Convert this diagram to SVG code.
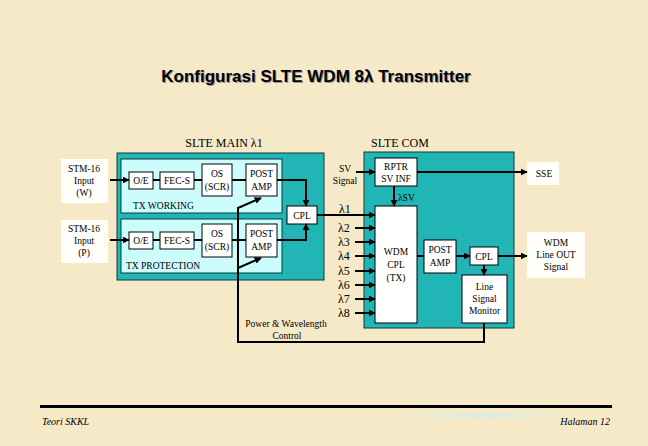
<svg xmlns="http://www.w3.org/2000/svg" width="648" height="446" viewBox="0 0 648 446">
<style>
.bg{fill:#F6E9C8}
.teal{fill:#22B5B5;stroke:#0a3a3a;stroke-width:1}
.lc{fill:#CCFCFC;stroke:#0a3a3a;stroke-width:1}
.wb{fill:#FFFFFF;stroke:#000;stroke-width:1}
.lab{fill:#FFFEF8}
.t{font-family:"Liberation Serif","Times New Roman",serif;font-size:9.5px;fill:#000;text-anchor:middle}
.tl{font-family:"Liberation Serif","Times New Roman",serif;font-size:9.5px;fill:#000}
.hd{font-family:"Liberation Serif","Times New Roman",serif;font-size:12px;fill:#000;text-anchor:middle}
.lam{font-family:"Liberation Serif","Times New Roman",serif;font-size:12px;fill:#000}
.c{fill:none;stroke:#000;stroke-width:2}
.ca{fill:none;stroke:#000;stroke-width:2;marker-end:url(#ah)}
.ft{font-family:"Liberation Serif","Times New Roman",serif;font-size:10px;font-style:italic;fill:#000}
</style>
<defs>
<marker id="ah" viewBox="0 0 10 10" refX="9" refY="5" markerWidth="7" markerHeight="7" markerUnits="userSpaceOnUse" orient="auto"><path d="M0,0 L10,5 L0,10 z" fill="#000"/></marker>
<linearGradient id="strip" x1="0" y1="0" x2="1" y2="0">
<stop offset="0" stop-color="#CFEFEA" stop-opacity="0"/>
<stop offset="0.5" stop-color="#CFEFEA" stop-opacity="0.8"/>
<stop offset="1" stop-color="#CFEFEA" stop-opacity="0"/>
</linearGradient>
</defs>
<rect class="bg" x="0" y="0" width="648" height="446"/>

<g id="title">
<text x="317" y="83" font-family="Liberation Sans, Arial, sans-serif" font-size="17" font-weight="bold" fill="#9a9a9a" text-anchor="middle">Konfigurasi SLTE WDM 8λ Transmitter</text>
<text x="316" y="82" font-family="Liberation Sans, Arial, sans-serif" font-size="17" font-weight="bold" fill="#000" text-anchor="middle">Konfigurasi SLTE WDM 8λ Transmitter</text>
</g>

<g id="slte-main">
<text class="hd" x="224" y="147">SLTE MAIN λ1</text>
<rect class="teal" x="117" y="153" width="207" height="127"/>
</g>
<g id="tx-working">
<rect class="lc" x="121" y="159" width="161" height="54"/>
<text class="tl" x="133" y="209">TX WORKING</text>
</g>
<g id="tx-protection">
<rect class="lc" x="121" y="219" width="161" height="54"/>
<text class="tl" x="126" y="269">TX PROTECTION</text>
</g>

<g id="stm16-w">
<rect class="lab" x="61" y="159" width="47" height="44"/>
<text class="t" x="84" y="172">STM-16</text>
<text class="t" x="84" y="184">Input</text>
<text class="t" x="84" y="196">(W)</text>
</g>
<g id="stm16-p">
<rect class="lab" x="61" y="220" width="47" height="43"/>
<text class="t" x="84" y="232">STM-16</text>
<text class="t" x="84" y="244">Input</text>
<text class="t" x="84" y="256">(P)</text>
</g>

<g id="oe-w"><rect class="wb" x="129" y="172" width="24" height="17"/><text class="t" x="141" y="184">O/E</text></g>
<g id="fec-w"><rect class="wb" x="160" y="172" width="34" height="17"/><text class="t" x="177" y="184">FEC-S</text></g>
<g id="os-w"><rect class="wb" x="202" y="164" width="30" height="32"/><text class="t" x="217" y="177">OS</text><text class="t" x="217" y="190">(SCR)</text></g>
<g id="pa-w"><rect class="wb" x="246" y="164" width="31" height="32"/><text class="t" x="261.5" y="177">POST</text><text class="t" x="261.5" y="190">AMP</text></g>

<g id="oe-p"><rect class="wb" x="129" y="232" width="24" height="17"/><text class="t" x="141" y="244">O/E</text></g>
<g id="fec-p"><rect class="wb" x="160" y="232" width="34" height="17"/><text class="t" x="177" y="244">FEC-S</text></g>
<g id="os-p"><rect class="wb" x="202" y="224" width="30" height="33"/><text class="t" x="217" y="237">OS</text><text class="t" x="217" y="250">(SCR)</text></g>
<g id="pa-p"><rect class="wb" x="246" y="224" width="31" height="33"/><text class="t" x="261.5" y="237">POST</text><text class="t" x="261.5" y="250">AMP</text></g>

<g id="cpl-main"><rect class="wb" x="287" y="206" width="30" height="18"/><text class="t" x="302" y="219">CPL</text></g>

<g id="slte-com">
<text class="hd" x="400" y="147">SLTE COM</text>
<rect class="teal" x="364" y="152" width="150" height="176"/>
</g>
<g id="sv-signal"><text class="t" x="345" y="172">SV</text><text class="t" x="345" y="184">Signal</text></g>
<g id="rptr"><rect class="wb" x="375" y="158" width="42" height="28"/><text class="t" x="396" y="170">RPTR</text><text class="t" x="396" y="182">SV INF</text></g>
<g id="sse"><rect class="lab" x="527" y="162" width="32" height="23"/><text class="t" x="544" y="177">SSE</text></g>
<g id="wdm-cpl"><rect class="wb" x="375" y="206" width="42" height="117"/><text class="t" x="396" y="255">WDM</text><text class="t" x="396" y="268">CPL</text><text class="t" x="396" y="281">(TX)</text></g>
<g id="pa-com"><rect class="wb" x="424" y="240" width="32" height="33"/><text class="t" x="440" y="253">POST</text><text class="t" x="440" y="266">AMP</text></g>
<g id="cpl-com"><rect class="wb" x="470" y="247" width="28" height="18"/><text class="t" x="484" y="260">CPL</text></g>
<g id="lsm"><rect class="wb" x="462" y="275" width="45" height="48"/><text class="t" x="484.5" y="290">Line</text><text class="t" x="484.5" y="302">Signal</text><text class="t" x="484.5" y="314">Monitor</text></g>
<g id="wdm-out"><rect class="lab" x="527" y="232" width="58" height="46"/><text class="t" x="556" y="246">WDM</text><text class="t" x="556" y="258">Line OUT</text><text class="t" x="556" y="270">Signal</text></g>

<g id="lambda-labels">
<text class="lam" x="339" y="213">λ1</text>
<text class="lam" x="338" y="232">λ2</text>
<text class="lam" x="338" y="246">λ3</text>
<text class="lam" x="338" y="260">λ4</text>
<text class="lam" x="338" y="275">λ5</text>
<text class="lam" x="338" y="289">λ6</text>
<text class="lam" x="338" y="303">λ7</text>
<text class="lam" x="338" y="317">λ8</text>
<text class="tl" x="398" y="201">λSV</text>
</g>

<g id="power-control"><text class="t" x="286" y="327">Power &amp; Wavelength</text><text class="t" x="287" y="339">Control</text></g>

<g id="connectors">
<path class="ca" d="M110,180 H129"/>
<path class="ca" d="M110,240 H129"/>
<path class="c" d="M153,180 H160 M194,180 H202 M232,180 H246"/>
<path class="c" d="M153,240 H160 M194,240 H202 M232,240 H246"/>
<path class="ca" d="M277,180 H306 V206"/>
<path class="ca" d="M277,240 H306 V224"/>
<path class="ca" d="M317,215 H375"/>
<path class="ca" d="M356,172 H375"/>
<path class="ca" d="M417,172 H527"/>
<path class="ca" d="M394,186 V206"/>
<path class="ca" d="M355,228 H375"/>
<path class="ca" d="M355,242 H375"/>
<path class="ca" d="M355,256 H375"/>
<path class="ca" d="M355,271 H375"/>
<path class="ca" d="M355,285 H375"/>
<path class="ca" d="M355,299 H375"/>
<path class="ca" d="M355,313 H375"/>
<path class="c" d="M417,256 H424"/>
<path class="ca" d="M456,256 H470"/>
<path class="ca" d="M498,256 H527"/>
<path class="ca" d="M484,265 V275"/>
<path class="c" d="M484,323 V342 H238 V207"/>
<path class="ca" d="M238,208 L261,198"/>
<path class="ca" d="M238,268 L261,258"/>
</g>

<g id="footer">
<rect x="40" y="405" width="572" height="3" fill="#000"/>
<rect x="400" y="413" width="170" height="5" fill="url(#strip)"/>
<text class="ft" x="42" y="425">Teori SKKL</text>
<text class="ft" x="610" y="425" text-anchor="end">Halaman 12</text>
</g>
</svg>
